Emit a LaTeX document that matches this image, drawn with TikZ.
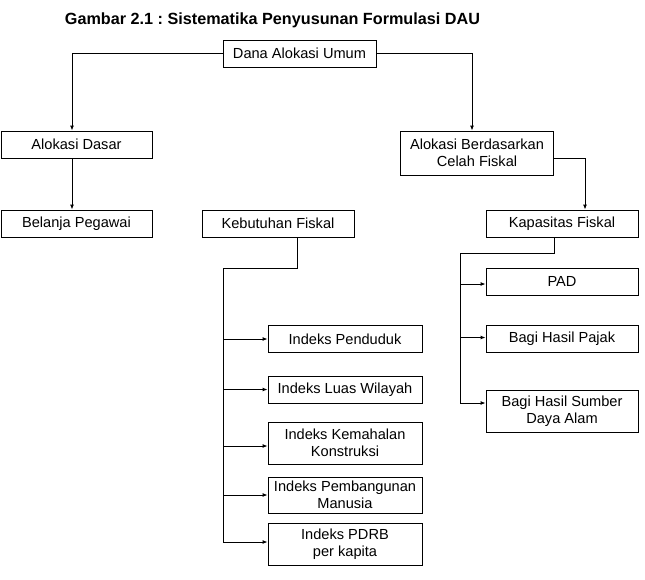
\documentclass[tikz,border=0pt]{standalone}
\usepackage{fontspec}
\setmainfont{Liberation Sans}
\frenchspacing
\usetikzlibrary{arrows.meta,calc}
\tikzset{
  box/.style={draw, line width=0.9pt, rectangle, minimum width=153pt, minimum height=27pt,
    inner sep=0pt, align=center, font=\fontsize{14.6}{16.5}\selectfont},
  conn/.style={line width=0.9pt},
  arr/.style={conn, -{Latex[length=5pt,width=4pt]}}
}
\begin{document}
\begin{tikzpicture}[x=1pt,y=-1pt]
\useasboundingbox (0,0) rectangle (645,579);
\node[font=\bfseries\fontsize{16.2}{19}\selectfont] (title) at (272.5,20) {Gambar 2.1 : Sistematika Penyusunan Formulasi DAU};

\node[box] (dau) at (299.5,53.5) {Dana Alokasi Umum};
\node[box, minimum width=151pt] (ad) at (76.5,144.5) {Alokasi Dasar};
\node[box, minimum width=151pt] (bp) at (76.5,223.5) {Belanja Pegawai};
\node[box, minimum width=152pt] (kf) at (278,223.5) {Kebutuhan Fiskal};
\node[box, minimum height=44pt] (ab) at (477,153) {Alokasi Berdasarkan\\Celah Fiskal};
\node[box, minimum width=152pt] (kap) at (562,223.5) {Kapasitas Fiskal};
\node[box, minimum width=152pt] (pad) at (562,281.5) {PAD};
\node[box, minimum width=152pt] (bhp) at (562,339) {Bagi Hasil Pajak};
\node[box, minimum width=152pt, minimum height=42pt] (bhs) at (562,411) {Bagi Hasil Sumber\\Daya Alam};

\node[box, minimum width=154pt] (ip) at (345,339) {Indeks Penduduk};
\node[box, minimum width=154pt] (ilw) at (345,389.5) {Indeks Luas Wilayah};
\node[box, minimum width=154pt, minimum height=42pt] (ikk) at (345,443) {Indeks Kemahalan\\Konstruksi};
\node[box, minimum width=154pt, minimum height=36pt] (ipm) at (345,495) {Indeks Pembangunan\\Manusia};
\node[box, minimum width=154pt, minimum height=42pt] (pdrb) at (345,544) {Indeks PDRB\\per kapita};

% top connectors
\draw[arr] (dau.west) -| ([xshift=-4.5pt]ad.north);
\draw[arr] ([xshift=-4.5pt]ad.south) -- ([xshift=-4.5pt]bp.north);
\draw[arr] (dau.east) -| ([xshift=-5pt]ab.north);
\draw[arr] ([yshift=-5pt]ab.east) -| ([xshift=23pt]kap.north);

% Kapasitas Fiskal branch
\coordinate (rs) at ($(kap.south)+(-8,0)$);
\coordinate (rtop) at ($(rs)+(0,16)$);
\coordinate (rspine) at (460,253);
\coordinate (padin) at ($(pad.west)+(0,2.5)$);
\coordinate (bhpin) at ($(bhp.west)+(0,-1.5)$);
\coordinate (bhsin) at ($(bhs.west)+(0,-8)$);
\draw[conn] (rs) -- (rtop) -- (rtop -| rspine) -- (rspine |- bhsin);
\draw[arr] (padin -| rspine) -- (padin);
\draw[arr] (bhpin -| rspine) -- (bhpin);
\draw[arr] (bhsin -| rspine) -- (bhsin);

% Kebutuhan Fiskal branch
\coordinate (ks) at ($(kf.south)+(19,0)$);
\coordinate (ktop) at ($(ks)+(0,31)$);
\coordinate (lspine) at (223,268);
\coordinate (ikkin) at ($(ikk.west)+(0,3)$);
\coordinate (pdrbin) at ($(pdrb.west)+(0,-2)$);
\draw[conn] (ks) -- (ktop) -- (ktop -| lspine) -- (lspine |- pdrbin);
\draw[arr] (ip.west -| lspine) -- (ip.west);
\draw[arr] (ilw.west -| lspine) -- (ilw.west);
\draw[arr] (ikkin -| lspine) -- (ikkin);
\draw[arr] (ipm.west -| lspine) -- (ipm.west);
\draw[arr] (pdrbin -| lspine) -- (pdrbin);
\end{tikzpicture}
\end{document}
